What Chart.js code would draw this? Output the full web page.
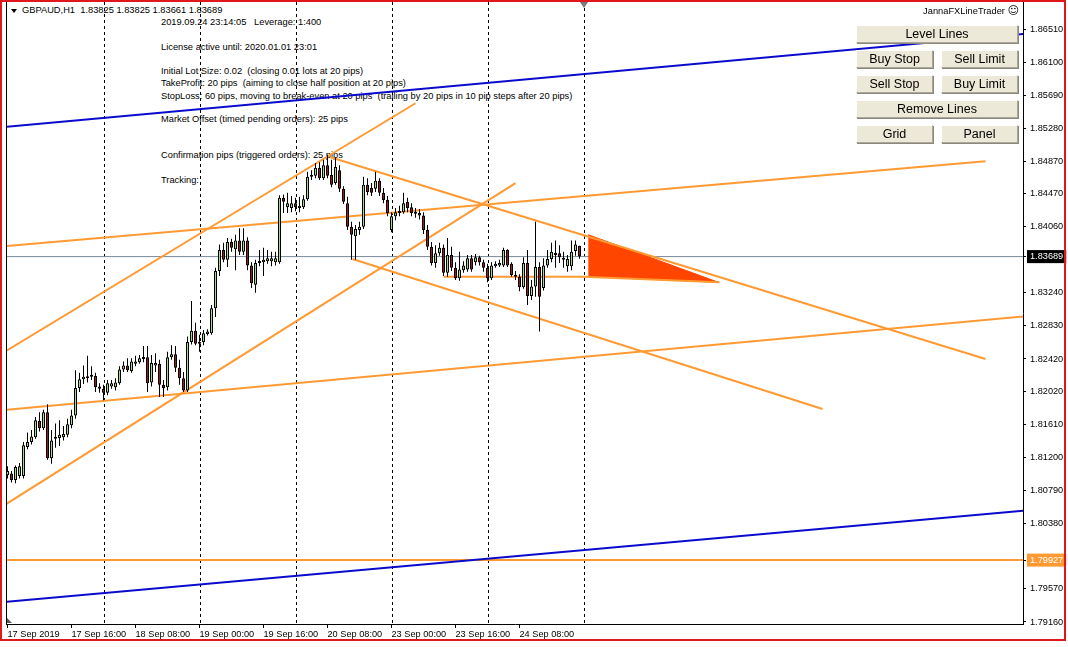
<!DOCTYPE html>
<html>
<head>
<meta charset="utf-8">
<title>GBPAUD,H1</title>
<script src="https://cdn.jsdelivr.net/npm/chart.js@4.4.1/dist/chart.umd.min.js"></script>
<style>
  html, body { margin: 0; padding: 0; background: #fff; }
  #wrap { position: relative; width: 1068px; height: 647px; overflow: hidden; background: #fff;
          font-family: "Liberation Sans", Arial, sans-serif; }
  #info { position: absolute; left: 0; top: 0; width: 1068px; height: 647px; z-index: 0; }
  .t { position: absolute; white-space: pre; font-size: 9.3px; line-height: 11px; color: #000; }
  #chart { position: absolute; left: 0; top: 0; z-index: 1; }
  #panel { position: absolute; left: 0; top: 0; width: 1068px; height: 647px; z-index: 2; pointer-events: none; }
  .btn { position: absolute; box-sizing: border-box; height: 18px; background: #ECE9D8;
         border-top: 1px solid #fff; border-left: 1px solid #fff;
         border-right: 1px solid #ACA899; border-bottom: 1px solid #ACA899;
         box-shadow: 1px 1px 0 #8a887c; font-size: 12.5px; line-height: 16px; text-align: center; color: #000; }
  .title { position: absolute; white-space: pre; font-size: 9.3px; line-height: 12px; color: #000; text-align: right; }
  .smile { font-family: "DejaVu Sans", sans-serif; font-size: 11px; }
  #frame { position: absolute; left: 0; top: 0; width: 1066px; height: 641px; box-sizing: border-box;
           border: 2px solid #E0181C; z-index: 3; pointer-events: none; }
  #edge { position: absolute; left: 6px; top: 2px; width: 1px; height: 623px; background: #000; z-index: 2; }
  .tri { position: absolute; width: 0; height: 0; z-index: 2; }
</style>
</head>
<body>
<div id="wrap">
  <div id="info">
    <div class="tri" style="left:11px;top:9px;border-left:3px solid transparent;border-right:3px solid transparent;border-top:4px solid #000;"></div>
    <div class="t" id="hdr" style="left:22px;top:5px;"></div>
    <div class="t" style="left:161px;top:17px;">2019.09.24 23:14:05   Leverage: 1:400</div>
    <div class="t" style="left:161px;top:42px;">License active until: 2020.01.01 23:01</div>
    <div class="t" style="left:161px;top:66px;">Initial Lot Size: 0.02  (closing 0.01 lots at 20 pips)</div>
    <div class="t" style="left:161px;top:78px;">TakeProfit: 20 pips  (aiming to close half position at 20 pips)</div>
    <div class="t" style="left:161px;top:91px;">StopLoss: 60 pips, moving to break-even at 20 pips  (trailing by 20 pips in 10 pip steps after 20 pips)</div>
    <div class="t" style="left:161px;top:114px;">Market Offset (timed pending orders): 25 pips</div>
    <div class="t" style="left:161px;top:150px;">Confirmation pips (triggered orders): 25 pips</div>
    <div class="t" style="left:161px;top:175px;">Tracking:</div>
  </div>
  <canvas id="chart" width="1068" height="647"></canvas>
  <div id="panel">
    <div class="title" style="right:49px;top:5px;">JannaFXLineTrader <span class="smile">☺</span></div>
    <div class="btn" style="left:856px;top:25px;width:162px;">Level Lines</div>
    <div class="btn" style="left:856px;top:50px;width:77px;">Buy Stop</div>
    <div class="btn" style="left:941px;top:50px;width:77px;">Sell Limit</div>
    <div class="btn" style="left:856px;top:75px;width:77px;">Sell Stop</div>
    <div class="btn" style="left:941px;top:75px;width:77px;">Buy Limit</div>
    <div class="btn" style="left:856px;top:100px;width:162px;">Remove Lines</div>
    <div class="btn" style="left:856px;top:125px;width:77px;">Grid</div>
    <div class="btn" style="left:941px;top:125px;width:77px;">Panel</div>
  </div>
  <div id="edge"></div>
  <div class="tri" style="left:580px;top:2px;border-left:4px solid transparent;border-right:4px solid transparent;border-top:6px solid #7a7a7a;"></div>
  <div class="tri" style="left:7px;top:618px;border-top:5px solid transparent;border-left:5px solid #555;"></div>
  <div id="frame"></div>
</div>

<script>
// GBPAUD H1 candles, 17 Sep 2019 00:00 .. 24 Sep 2019 23:00 (bar index = hour slot)
const opens = [
  1.8098,1.8100,1.8092,1.8097,1.8097,1.8133,1.8139,1.8145,1.8165,1.8156,
  1.8176,1.8119,1.8143,1.8144,1.8145,1.8148,1.8160,1.8172,1.8206,1.8217,
  1.8218,1.8220,1.8221,1.8208,1.8205,1.8200,1.8208,1.8207,1.8212,1.8229,
  1.8234,1.8227,1.8236,1.8238,1.8242,1.8244,1.8213,1.8234,1.8236,1.8210,
  1.8207,1.8244,1.8248,1.8231,1.8218,1.8203,1.8263,1.8277,1.8263,1.8263,
  1.8273,1.8274,1.8305,1.8351,1.8377,1.8365,1.8387,1.8378,1.8389,1.8375,
  1.8389,1.8358,1.8334,1.8361,1.8362,1.8363,1.8363,1.8362,1.8362,1.8442,
  1.8430,1.8429,1.8435,1.8429,1.8430,1.8440,1.8468,1.8469,1.8479,1.8466,
  1.8482,1.8470,1.8460,1.8476,1.8453,1.8435,1.8406,1.8394,1.8402,1.8406,
  1.8458,1.8454,1.8453,1.8463,1.8448,1.8439,1.8402,1.8419,1.8423,1.8424,
  1.8437,1.8430,1.8424,1.8423,1.8420,1.8402,1.8381,1.8361,1.8373,1.8380,
  1.8349,1.8371,1.8355,1.8342,1.8352,1.8353,1.8367,1.8362,1.8368,1.8362,
  1.8355,1.8342,1.8357,1.8358,1.8358,1.8377,1.8360,1.8346,1.8344,1.8331,
  1.8361,1.8320,1.8332,1.8356,1.8330,1.8358,1.8366,1.8371,1.8373,1.8367,
  1.8357,1.8357,1.8376,1.83825
];
const highs = [
  1.8109,1.8103,1.8110,1.8113,1.8139,1.8151,1.8154,1.8170,1.8176,1.8179,
  1.8186,1.8154,1.8162,1.8166,1.8159,1.8168,1.8179,1.8228,1.8225,1.8234,
  1.8246,1.8233,1.8225,1.8212,1.8210,1.8216,1.8216,1.8218,1.8233,1.8239,
  1.8243,1.8243,1.8246,1.8247,1.8258,1.8258,1.8247,1.8249,1.8241,1.8216,
  1.8251,1.8259,1.8258,1.8241,1.8226,1.8270,1.8314,1.8287,1.8272,1.8278,
  1.8279,1.8309,1.8355,1.8384,1.8386,1.8392,1.8391,1.8396,1.8404,1.8404,
  1.8393,1.8362,1.8365,1.8377,1.8380,1.8377,1.8375,1.8375,1.8445,1.8446,
  1.8448,1.8444,1.8442,1.8443,1.8445,1.8474,1.8476,1.8485,1.8486,1.8489,
  1.8495,1.8489,1.8492,1.8482,1.8456,1.8443,1.8412,1.8408,1.8412,1.8468,
  1.8466,1.8460,1.8474,1.8466,1.8454,1.8444,1.8424,1.8429,1.8432,1.8448,
  1.8442,1.8435,1.8429,1.8428,1.8424,1.8408,1.8387,1.8383,1.8386,1.8384,
  1.8392,1.8381,1.8362,1.8375,1.8363,1.8371,1.8371,1.8372,1.8370,1.8365,
  1.8360,1.8362,1.8363,1.8365,1.8380,1.8378,1.8362,1.8351,1.8347,1.8368,
  1.8377,1.8340,1.8412,1.8362,1.8367,1.8377,1.8386,1.8389,1.8383,1.8375,
  1.8371,1.8389,1.8389,1.83825
];
const lows = [
  1.8094,1.8089,1.8088,1.8094,1.8094,1.8130,1.8136,1.8143,1.8152,1.8154,
  1.8117,1.8112,1.8132,1.8134,1.8141,1.8145,1.8156,1.8168,1.8201,1.8211,
  1.8213,1.8216,1.8201,1.8200,1.8191,1.8197,1.8205,1.8203,1.8210,1.8226,
  1.8226,1.8225,1.8233,1.8236,1.8238,1.8201,1.8208,1.8226,1.8195,1.8195,
  1.8203,1.8241,1.8226,1.8210,1.8201,1.8201,1.8260,1.8259,1.8251,1.8259,
  1.8271,1.8272,1.8294,1.8345,1.8362,1.8356,1.8375,1.8352,1.8371,1.8371,
  1.8352,1.8330,1.8324,1.8357,1.8345,1.8360,1.8357,1.8358,1.8360,1.8423,
  1.8423,1.8424,1.8425,1.8424,1.8428,1.8438,1.8464,1.8466,1.8464,1.8464,
  1.8466,1.8455,1.8458,1.8449,1.8434,1.8402,1.8365,1.8365,1.8396,1.8403,
  1.8445,1.8444,1.8449,1.8444,1.8435,1.8419,1.8399,1.8414,1.8419,1.8422,
  1.8424,1.8419,1.8417,1.8415,1.8397,1.8377,1.8358,1.8355,1.8370,1.8345,
  1.8344,1.8351,1.8340,1.8339,1.8349,1.8350,1.8350,1.8358,1.8358,1.8350,
  1.8337,1.8340,1.8355,1.8356,1.8356,1.8356,1.8344,1.8340,1.8326,1.8329,
  1.8309,1.8315,1.8319,1.8276,1.8327,1.8355,1.8362,1.8355,1.8361,1.8355,
  1.8350,1.8352,1.8370,1.83661
];
const closes = [
  1.8103,1.8092,1.8108,1.8109,1.8135,1.8139,1.8146,1.8166,1.8156,1.8176,
  1.8119,1.8141,1.8145,1.8148,1.8149,1.8161,1.8172,1.8206,1.8217,1.8220,
  1.8220,1.8221,1.8207,1.8205,1.8200,1.8212,1.8212,1.8213,1.8229,1.8234,
  1.8228,1.8239,1.8239,1.8243,1.8244,1.8212,1.8237,1.8237,1.8210,1.8206,
  1.8244,1.8248,1.8231,1.8218,1.8203,1.8263,1.8277,1.8261,1.8261,1.8274,
  1.8276,1.8305,1.8351,1.8377,1.8365,1.8387,1.8380,1.8389,1.8375,1.8389,
  1.8358,1.8336,1.8361,1.8363,1.8365,1.8367,1.8367,1.8367,1.8442,1.8437,
  1.8435,1.8435,1.8430,1.8432,1.8440,1.8468,1.8470,1.8479,1.8466,1.8482,
  1.8469,1.8458,1.8480,1.8453,1.8437,1.8406,1.8396,1.8403,1.8406,1.8458,
  1.8449,1.8448,1.8463,1.8448,1.8439,1.8423,1.8419,1.8424,1.8425,1.8435,
  1.8429,1.8423,1.8422,1.8420,1.8402,1.8381,1.8361,1.8373,1.8380,1.8349,
  1.8371,1.8355,1.8342,1.8353,1.8358,1.8367,1.8353,1.8368,1.8362,1.8355,
  1.8342,1.8358,1.8360,1.8361,1.8377,1.8358,1.8346,1.8344,1.8331,1.8361,
  1.8320,1.8332,1.8356,1.8319,1.8358,1.8366,1.8375,1.8373,1.8368,1.8365,
  1.8366,1.8375,1.8384,1.83689
];

// time axis labels and the bar index they sit on
const timeLabels = ['17 Sep 2019','17 Sep 16:00','18 Sep 08:00','19 Sep 00:00','19 Sep 16:00',
                    '20 Sep 08:00','23 Sep 00:00','23 Sep 16:00','24 Sep 08:00'];
const timeLabelBars = [0, 16, 32, 48, 64, 80, 96, 112, 128];
// day separators (bar index of each midnight)
const dayBreaks = [24, 48, 72, 96, 120, 144];

// price scale labels
const priceTicks = [1.86510, 1.86100, 1.85690, 1.85280, 1.84870, 1.84470, 1.84060, 1.83240, 1.82830,
                    1.82420, 1.82020, 1.81610, 1.81200, 1.80790, 1.80380, 1.79570, 1.79160];
const levelPrice = 1.79927;

// trend lines: [barIndex, price] anchor points
const blueUpper   = [[-2, 1.85291], [256, 1.86457]];
const blueLower   = [[-2, 1.79401], [256, 1.80547]];
const riseUpper   = [[-2, 1.82470], [102, 1.85590]];
const riseLower   = [[-2, 1.80570], [127, 1.84600]];
const flatLower   = [[-2, 1.81781], [256, 1.82957]];
const flatUpper   = [[-2, 1.83811], [244.5, 1.84870]];
const fallUpper   = [[80.75, 1.84920], [244.5, 1.82420]];
const fallLower   = [[86.25, 1.83660], [203.75, 1.81800]];
const supportLine = [[109, 1.83440], [144, 1.83440], [178, 1.83370]];
const wedge       = [[145.2, 1.83960], [177.75, 1.83370], [145.2, 1.83440]];

const last = closes.length - 1;
const bid = closes[last];
document.getElementById('hdr').textContent =
  'GBPAUD,H1  ' + [opens[last], highs[last], lows[last], closes[last]].map(v => v.toFixed(5)).join(' ');

const BULL = '#A9DB86', BEAR = '#931D1D', ORANGE = '#FF9A33', BLUE = '#0A0ACD';
const X_MIN = -0.125, X_MAX = 253.875;
const FONT = "'Liberation Sans', Arial, sans-serif";

const bars = opens.map((_, i) => i);
const wickData = bars.map(i => ({ x: i, y: [lows[i], highs[i]] }));
const bodyData = bars.map(i => ({ x: i, y: [opens[i], closes[i]] }));
const bodyColors = bars.map(i => closes[i] >= opens[i] ? BULL : BEAR);
const toXY = pts => pts.map(([x, y]) => ({ x, y }));
const lineDs = (pts, color, width, order) => ({
  type: 'line', data: toXY(pts), borderColor: color, borderWidth: width,
  pointRadius: 0, fill: false, tension: 0, order
});

const yTickValues = priceTicks.concat([bid, levelPrice]).sort((a, b) => b - a);
const isBid = v => Math.abs(v - bid) < 1e-7;
const isLevel = v => Math.abs(v - levelPrice) < 1e-7;

// keep the plot edges fixed: no extra room reserved for half-height edge labels
const noEdgePadding = s => { s.paddingTop = 0; s.paddingBottom = 0; s.paddingLeft = 0; s.paddingRight = 0; };

new Chart(document.getElementById('chart'), {
  type: 'bar',
  data: {
    datasets: [
      { type: 'bar', data: bodyData, backgroundColor: bodyColors, borderColor: '#000', borderWidth: 1,
        borderSkipped: false, barThickness: 3, grouped: false, minBarLength: 2, inflateAmount: 0, order: 0 },
      { type: 'bar', data: wickData, backgroundColor: '#000', borderWidth: 0,
        barThickness: 1, grouped: false, inflateAmount: 0, order: 1 },
      lineDs(blueUpper, BLUE, 2, 2),
      lineDs(blueLower, BLUE, 2, 2),
      lineDs(riseUpper, ORANGE, 2, 2),
      lineDs(riseLower, ORANGE, 2, 2),
      lineDs(flatLower, ORANGE, 2, 2),
      lineDs(flatUpper, ORANGE, 2, 2),
      lineDs(fallUpper, ORANGE, 2, 2),
      lineDs(fallLower, ORANGE, 2, 2),
      lineDs(supportLine, ORANGE, 2, 3),
      { type: 'line', data: toXY(wedge), borderColor: '#FF4500', backgroundColor: '#FF4500',
        borderWidth: 1, pointRadius: 0, tension: 0, fill: 'shape', order: 4 },
      lineDs([[X_MIN - 5, bid], [X_MAX + 5, bid]], '#778899', 1, 5),
      lineDs([[X_MIN - 5, levelPrice], [X_MAX + 5, levelPrice]], ORANGE, 2, 5)
    ]
  },
  options: {
    responsive: false,
    animation: false,
    events: [],
    layout: { padding: { left: 7, top: 2, right: 0, bottom: 0 } },
    plugins: { legend: { display: false }, tooltip: { enabled: false } },
    scales: {
      x: {
        type: 'linear', position: 'bottom', min: X_MIN, max: X_MAX, offset: false,
        grid: { display: true, drawOnChartArea: false, drawTicks: true, tickLength: 4, color: '#000', offset: false },
        border: { display: true, color: '#000', width: 1 },
        afterBuildTicks: s => { s.ticks = timeLabelBars.map(v => ({ value: v })); },
        afterFit: s => { s.height = 23; noEdgePadding(s); },
        ticks: {
          autoSkip: false, maxRotation: 0, minRotation: 0, align: 'start', padding: 1,
          color: '#000', font: { family: FONT, size: 9.2 },
          callback: (v, i) => timeLabels[i]
        }
      },
      xg: {
        type: 'linear', position: 'bottom', min: X_MIN, max: X_MAX, offset: false,
        grid: { display: true, drawOnChartArea: true, drawTicks: false, color: '#000', lineWidth: 1, offset: false },
        border: { display: false, dash: [3, 3] },
        afterBuildTicks: s => { s.ticks = dayBreaks.map(v => ({ value: v + 0.25 })); },
        afterFit: s => { s.height = 0; noEdgePadding(s); },
        ticks: { display: false }
      },
      y: {
        type: 'linear', position: 'right', min: 1.79135, max: 1.86845, beginAtZero: false,
        grid: { display: true, drawOnChartArea: false, drawTicks: true, tickLength: 3, color: '#000' },
        border: { display: true, color: '#000', width: 1 },
        afterBuildTicks: s => { s.ticks = yTickValues.map(v => ({ value: v })); },
        afterFit: s => { s.width = 45; noEdgePadding(s); },
        ticks: {
          autoSkip: false, padding: 4,
          font: { family: FONT, size: 9.2 },
          callback: v => Number(v).toFixed(5),
          color: c => (isBid(c.tick.value) || isLevel(c.tick.value)) ? '#fff' : '#000',
          showLabelBackdrop: true,
          backdropColor: c => isBid(c.tick.value) ? '#000' : (isLevel(c.tick.value) ? ORANGE : 'rgba(0,0,0,0)'),
          backdropPadding: { top: 1, bottom: 1, left: 3, right: 3 }
        }
      }
    }
  }
});
</script>
</body>
</html>
